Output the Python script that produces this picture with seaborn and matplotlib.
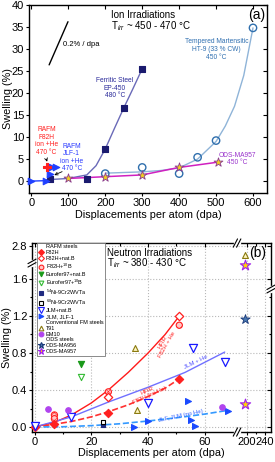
import numpy as np
import matplotlib
matplotlib.use("Agg")
import matplotlib.pyplot as plt
import seaborn as sns
from matplotlib.lines import Line2D
from matplotlib.ticker import FixedLocator, FormatStrFormatter

sns.set_theme(style="ticks", rc={"axes.edgecolor": "black", "xtick.color": "black",
                                 "ytick.color": "black", "text.color": "black",
                                 "axes.labelcolor": "black"})
plt.rcParams["font.family"] = ["Liberation Sans", "DejaVu Sans"]
plt.rcParams["mathtext.fontset"] = "custom"
plt.rcParams["mathtext.rm"] = "Liberation Sans"
plt.rcParams["mathtext.it"] = "Liberation Sans:italic"
plt.rcParams["hatch.color"] = "#ff2020"
plt.rcParams["hatch.linewidth"] = 0.4

# ---------------- Panel (a) data: ion irradiations ----------------
ep450_dpa = [50, 150, 200, 250, 300]
ep450_sw = [0.4, 0.5, 7.3, 16.6, 25.5]
ep450_fit_dpa = [40, 100, 150, 175, 200, 225, 250, 275, 300]
ep450_fit_sw = [0.3, 0.6, 1.4, 3.5, 7.3, 12.0, 16.6, 21.0, 25.5]
ht9_dpa = [200, 300, 400, 450, 500, 600]
ht9_sw = [1.7, 3.1, 1.7, 5.4, 9.2, 34.8]
ht9_fit_dpa = [200, 250, 300, 350, 400, 450, 500, 525, 550, 575, 600]
ht9_fit_sw = [1.8, 1.95, 2.1, 2.4, 3.0, 5.0, 9.0, 12.5, 17.0, 24.0, 34.8]
ma957a_dpa = [100, 200, 300, 400, 505]
ma957a_sw = [0.6, 1.0, 1.4, 3.1, 4.3]
f82h_ion_dpa = [42]
f82h_ion_sw = [3.1]
jlf1_ion_dpa = [0, 40, 50, 55, 66]
jlf1_ion_sw = [0.0, 0.1, 1.5, 3.2, 3.2]
slope_dpa = [48, 99]
slope_sw = [26.4, 36.2]

# ---------------- Panel (b) data: neutron irradiations ----------------
f82h_dpa = [0, 7, 26, 51]
f82h_sw = [0.0, 0.03, 0.15, 0.52]
f82h_natb_dpa = [26, 51]
f82h_natb_sw = [0.32, 1.2]
f82h_10b_dpa = [7, 7, 26, 51]
f82h_10b_sw = [0.13, 0.09, 0.38, 1.1]
euro_natb_dpa = [16.4]
euro_natb_sw = [0.68]
euro_10b_dpa = [16.4]
euro_10b_sw = [0.54]
ni54_dpa = [24]
ni54_sw = [0.02]
ni60_dpa = [24]
ni60_sw = [0.05]
jlm_natb_dpa = [0, 13, 40, 56, 67]
jlm_natb_sw = [0.01, 0.105, 0.255, 0.85, 0.705]
jlf_dpa = [35, 40, 54, 55, 56.5, 68]
jlf_sw = [0.0, 0.065, 0.28, 0.076, 0.01, 0.17]
t91_dpa = [35.5, 36, 196]
t91_sw = [0.85, 0.18, 2.67]
em10_dpa = [4.6, 11.7, 66]
em10_sw = [0.19, 0.18, 0.22]
ma956_dpa = [196]
ma956_sw = [1.17]
ma957b_dpa = [196, 196]
ma957b_sw = [1.75, 0.25]

hfir_he_dpa = [0, 7, 13, 20, 26, 33, 40, 46, 51]
hfir_he_sw = [0.0, 0.05, 0.13, 0.26, 0.40, 0.59, 0.80, 1.00, 1.20]
hfir_nohe_dpa = [0, 7, 13, 20, 26, 33, 40, 46, 51]
hfir_nohe_sw = [0.0, 0.03, 0.06, 0.11, 0.165, 0.24, 0.33, 0.42, 0.52]
jlm_he_dpa = [0, 13, 26, 40, 53, 67]
jlm_he_sw = [0.0, 0.11, 0.27, 0.43, 0.59, 0.81]
jlf_nohe_dpa = [0, 10, 20, 30, 40, 50, 60, 68]
jlf_nohe_sw = [0.0, 0.003, 0.015, 0.035, 0.065, 0.10, 0.14, 0.18]

xa_ticks = [0, 100, 200, 300, 400, 500, 600]
ya_ticks = [0, 5, 10, 15, 20, 25, 30, 35, 40]
xb_ticks = [0, 20, 40, 60, 200, 240]
yb_ticks = [0.0, 0.4, 0.8, 1.2, 1.6, 2.8]

# ---------------- figure ----------------
fig = plt.figure(figsize=(2.75, 4.62), dpi=100)
rect_a = [0.1055, 0.5823, 0.8655, 0.4069]
rect_b = [0.1164, 0.0649, 0.869, 0.409]
ax = fig.add_axes(rect_a)

FS_TICK = 8.0
FS_LAB = 7.8
FS_SM = 4.8


def sc(ax, x, y, marker, fc, ec, s, lw=0.8, z=4, **kw):
    sns.scatterplot(x=x, y=y, ax=ax, marker=marker, color=ec, facecolor=fc,
                    edgecolor=ec, s=s, linewidth=lw, zorder=z, clip_on=False,
                    legend=False, **kw)


def ln(ax, x, y, color, lw=1.0, ls="-", z=3):
    sns.lineplot(x=x, y=y, ax=ax, color=color, lw=lw, linestyle=ls, sort=False,
                 estimator=None, zorder=z, legend=False)


# ---- panel (a) ----
ax.set_xlim(-6.5, 638)
ax.set_ylim(-2.7, 40)
ln(ax, ep450_fit_dpa, ep450_fit_sw, "#6a6ab8")
ln(ax, ht9_fit_dpa, ht9_fit_sw, "#8fb4d8")
ln(ax, ma957a_dpa, ma957a_sw, "#d020c0", lw=1.1)
ln(ax, jlf1_ion_dpa[:2], jlf1_ion_sw[:2], "#2040ff", lw=1.0)
ln(ax, slope_dpa, slope_sw, "black", lw=1.0)
sc(ax, ep450_dpa, ep450_sw, "s", "#1a1a6e", "#1a1a6e", 14)
sc(ax, ht9_dpa, ht9_sw, "o", "none", "#2f6fad", 28, lw=1.0)
sc(ax, ma957a_dpa, ma957a_sw, "*", "#f0d020", "#8a3a90", 45, lw=0.6)
sc(ax, jlf1_ion_dpa, jlf1_ion_sw, ">", "#2040ff", "#2040ff", 22)
sc(ax, f82h_ion_dpa, f82h_ion_sw, "P", "#ff2020", "#ff2020", 28)

ax.set_xticks(xa_ticks)
ax.set_yticks(ya_ticks)
ax.tick_params(which="both", direction="out", labelsize=FS_TICK, length=2.5, width=0.8,
               pad=1, top=False, right=False)
ax.set_xlabel("Displacements per atom (dpa)", fontsize=FS_LAB)
ax.set_ylabel("Swelling (%)", fontsize=FS_LAB)
ax.yaxis.set_label_coords(-0.068, 0.5)
ax.xaxis.set_label_coords(0.5, -0.088)
for s in ax.spines.values():
    s.set_linewidth(1.0)
    s.set_visible(True)

ax.text(301, 37.7, "Ion Irradiations", fontsize=7, ha="center", va="center")
ax.text(215, 35.1, "T$_{irr}$ ~ 450 - 470 °C", fontsize=7, ha="left", va="center")
ax.text(610, 37.7, "(a)", fontsize=10, ha="center", va="center")
ax.text(85, 31.1, "0.2% / dpa", fontsize=5.5, ha="left", va="center")
ax.text(226, 21.1, "Ferritic Steel\nEP-450\n480 °C", fontsize=FS_SM, ha="center",
        va="center", color="#2a2a9a", linespacing=1.15)
ax.text(501, 29.9, "Tempered Martensitic\nHT-9 (33 % CW)\n450 °C", fontsize=FS_SM,
        ha="center", va="center", color="#2f6fb0", linespacing=1.15)
ax.text(557, 5.0, "ODS-MA957\n450 °C", fontsize=FS_SM, ha="center", va="center",
        color="#9933cc", linespacing=1.15)
ax.text(40.6, 9.1, "RAFM\nF82H\nion +He\n470 °C", fontsize=FS_SM, ha="center",
        va="center", color="#ff2020", linespacing=1.1)
ax.text(109, 5.4, "RAFM\nJLF-1\nion +He\n470 °C", fontsize=FS_SM, ha="center",
        va="center", color="#2a3aff", linespacing=1.1)
ax.annotate("", xy=(45, 3.8), xytext=(38, 5.6),
            arrowprops=dict(arrowstyle="->", color="black", lw=0.6,
                            mutation_scale=5))
ax.annotate("", xy=(55, 1.1), xytext=(90, 2.4),
            arrowprops=dict(arrowstyle="->", color="black", lw=0.6,
                            mutation_scale=5))

ax2 = fig.add_axes(rect_a, sharex=ax, sharey=ax)
ax2.patch.set_alpha(0)
for s in ax2.spines.values():
    s.set_visible(False)
ax2.grid(False)
ax2.tick_params(which="both", direction="in", length=3, width=0.8, bottom=False,
                left=False, top=True, right=True, labelbottom=False, labelleft=False,
                labeltop=False, labelright=False)

# ---- panel (b) ----
bx = fig.add_axes(rect_b)


def xb_fwd(x):
    return np.interp(x, [-50, 71.0, 178.0, 400], [-50, 71.0, 71.3, 106.6])


def xb_inv(s):
    return np.interp(s, [-50, 71.0, 71.3, 106.6], [-50, 71.0, 178.0, 400])


def yb_fwd(y):
    return np.interp(y, [-5, 1.76, 2.55, 10], [-5, 1.76, 1.765, 7.50])


def yb_inv(s):
    return np.interp(s, [-5, 1.76, 1.765, 7.50], [-5, 1.76, 2.55, 10])


bx.set_xscale("function", functions=(xb_fwd, xb_inv))
bx.set_yscale("function", functions=(yb_fwd, yb_inv))
bx.set_xlim(-0.9, 253.5)
bx.set_ylim(-0.054, 2.84)
bx.set_xticks(xb_ticks)
bx.set_yticks(yb_ticks)
bx.xaxis.set_minor_locator(FixedLocator([10, 30, 50, 220]))
bx.yaxis.set_minor_locator(FixedLocator([0.2, 0.6, 1.0, 1.4]))
bx.yaxis.set_major_formatter(FormatStrFormatter("%.1f"))
bx.grid(True, which="major", ls=":", color="#b8b8b8", lw=0.8)
bx.set_axisbelow(True)

ln(bx, hfir_he_dpa, hfir_he_sw, "#ff1a1a", lw=1.0)
ln(bx, jlm_he_dpa, jlm_he_sw, "#7070ff", lw=1.0)
ln(bx, hfir_nohe_dpa, hfir_nohe_sw, "#ff3030", lw=1.2, ls="--")
ln(bx, jlf_nohe_dpa, jlf_nohe_sw, "#3399ff", lw=1.2, ls="--")

sc(bx, f82h_10b_dpa, f82h_10b_sw, "o", "#ffc8c8", "#ff2020", 20, lw=0.8, hatch="xxxx")
sc(bx, f82h_natb_dpa, f82h_natb_sw, "D", "white", "#ff2020", 18, lw=0.9)
sc(bx, f82h_dpa, f82h_sw, "D", "#ff2020", "#ff2020", 18)
sc(bx, euro_natb_dpa, euro_natb_sw, "v", "#1a9a1a", "#1a9a1a", 20)
sc(bx, euro_10b_dpa, euro_10b_sw, "v", "white", "#33bb33", 20)
sc(bx, ni54_dpa, ni54_sw, "s", "#1f2a80", "#1f2a80", 12)
sc(bx, ni60_dpa, ni60_sw, "s", "white", "black", 12)
sc(bx, jlm_natb_dpa, jlm_natb_sw, "v", "white", "#1a1aff", 34, lw=0.9)
sc(bx, jlf_dpa, jlf_sw, ">", "#1a4aff", "#1a4aff", 18)
sc(bx, t91_dpa, t91_sw, "^", "#fff6c0", "#8a7a10", 18)
sc(bx, em10_dpa, em10_sw, "o", "#b044ee", "#b044ee", 16)
sc(bx, ma956_dpa, ma956_sw, "*", "#4a78b0", "#1a3a7a", 50, lw=0.6)
sc(bx, ma957b_dpa, ma957b_sw, "*", "#ffd700", "#a020f0", 60, lw=0.8)

bx.tick_params(which="both", direction="out", labelsize=FS_TICK, width=0.8, pad=1,
               top=False, right=False)
bx.tick_params(which="major", length=2.5)
bx.tick_params(which="minor", length=1.6)
bx.set_xlabel("Displacements per atom (dpa)", fontsize=FS_LAB)
bx.set_ylabel("Swelling (%)", fontsize=FS_LAB)
bx.yaxis.set_label_coords(-0.082, 0.5)
bx.xaxis.set_label_coords(0.5, -0.087)
for s in bx.spines.values():
    s.set_linewidth(1.0)
    s.set_visible(True)

bx.text(0.314, 0.949, "Neutron Irradiations", transform=bx.transAxes, fontsize=7,
        ha="left", va="center")
bx.text(0.314, 0.894, "T$_{irr}$ ~ 380 - 430 °C", transform=bx.transAxes, fontsize=7,
        ha="left", va="center")
bx.text(0.946, 0.95, "(b)", transform=bx.transAxes, fontsize=10, ha="center",
        va="center")
bx.text(46, 0.9, "HFIR\nF82H + He", fontsize=4.3, color="#ff2020", rotation=60,
        ha="center", va="center", linespacing=1.0, rotation_mode="anchor")
bx.text(57, 0.7, "JLM + He", fontsize=4.3, color="#5050ff", rotation=26,
        ha="center", va="center", rotation_mode="anchor")
bx.text(40, 0.37, "HFIR\nF82H (no He)", fontsize=4.3, color="#ff2020", rotation=24,
        ha="center", va="center", linespacing=1.0, rotation_mode="anchor")
bx.text(51.5, 0.125, "JLF, JLM (no He)", fontsize=4.3, color="#3060ff", rotation=12,
        ha="center", va="center", rotation_mode="anchor")


def hbreak(axx, xf, yf):
    axx.plot([xf - 0.008, xf + 0.008], [yf, yf], transform=axx.transAxes, color="white",
             lw=2.5, clip_on=False, zorder=10)
    for o in (-0.007, 0.007):
        axx.plot([xf + o - 0.009, xf + o + 0.009], [yf - 0.022, yf + 0.022],
                 transform=axx.transAxes, color="black", lw=0.8, clip_on=False,
                 zorder=11)


def vbreak(axx, xf, yf):
    axx.plot([xf, xf], [yf - 0.01, yf + 0.01], transform=axx.transAxes, color="white",
             lw=2.5, clip_on=False, zorder=10)
    for o in (-0.009, 0.009):
        axx.plot([xf - 0.017, xf + 0.017], [yf + o - 0.012, yf + o + 0.012],
                 transform=axx.transAxes, color="black", lw=0.8, clip_on=False,
                 zorder=11)


hbreak(bx, 0.858, 0.0)
hbreak(bx, 0.858, 1.0)
vbreak(bx, 0.0, 0.894)
vbreak(bx, 1.0, 0.757)

bx2 = fig.add_axes(rect_b, sharex=bx, sharey=bx)
bx2.patch.set_alpha(0)
for s in bx2.spines.values():
    s.set_visible(False)
bx2.grid(False)
bx2.tick_params(which="both", direction="in", width=0.8, bottom=False, left=False,
                top=True, right=True, labelbottom=False, labelleft=False,
                labeltop=False, labelright=False)
bx2.tick_params(which="major", length=3)
bx2.tick_params(which="minor", length=1.8)

# legend
def hdr():
    return Line2D([], [], ls="none", marker="None")


def mk(marker, fc, ec, ms=3.4, **kw):
    return Line2D([], [], ls="none", marker=marker, mfc=fc, mec=ec, ms=ms, mew=0.8, **kw)


handles = [hdr(), mk("D", "#ff2020", "#ff2020", 3.0), mk("D", "white", "#ff2020", 3.0),
           mk("o", "#ffc8c8", "#ff2020"), mk("v", "#1a9a1a", "#1a9a1a"),
           mk("v", "white", "#33bb33"), mk("s", "#1f2a80", "#1f2a80", 2.8),
           mk("s", "white", "black", 2.8), mk("v", "white", "#1a1aff", 4.0),
           mk(">", "#1a4aff", "#1a4aff"), hdr(), mk("^", "white", "#8a7a10"),
           mk("o", "#b044ee", "#b044ee"), hdr(), mk("*", "#4a78b0", "#1a3a7a", 5.0),
           mk("*", "#ffd700", "#a020f0", 5.0)]
labels = ["RAFM steels", "F82H", "F82H+nat.B", "F82H+$^{10}$B", "Eurofer97+nat.B",
          "Eurofer97+$^{10}$B", "$^{54}$Ni-9Cr2WVTa", "$^{60}$Ni-9Cr2WVTa", "JLM+nat.B",
          "JLM, JLF-1", "Conventional FM steels", "T91", "EM10", "ODS steels",
          "ODS-MA956", "ODS-MA957"]
leg = bx2.legend(handles, labels, loc="upper left", bbox_to_anchor=(0.022, 1.0),
                 borderaxespad=0, frameon=True, fancybox=False, edgecolor="#777777",
                 framealpha=1, fontsize=4.0, handlelength=0.9, handletextpad=0.35,
                 labelspacing=0.15, borderpad=0.25)
leg.get_frame().set_linewidth(0.6)

fig.savefig("out.png", dpi=100)
